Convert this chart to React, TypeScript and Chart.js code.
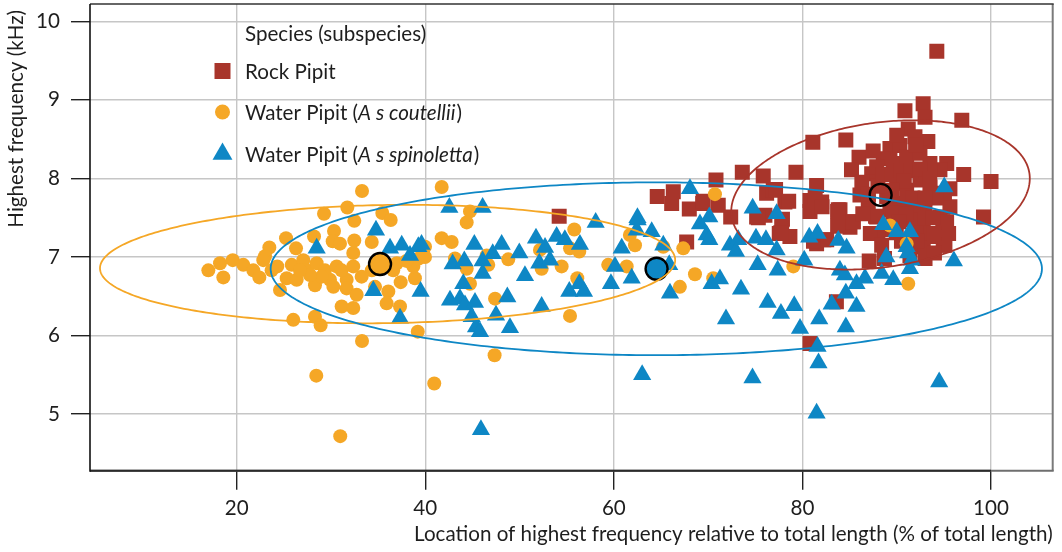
import React, { useEffect, useRef } from 'react';
import { Chart, registerables } from 'chart.js';

Chart.register(...registerables);

// ---------- axes ----------
const X_TICKS = [20, 40, 60, 80, 100];
const Y_TICKS = [5, 6, 7, 8, 9, 10];
const X_MIN = 4.44;
const X_MAX = 106.54;
const Y_MIN = 4.28;
const Y_MAX = 10.22;
const X_TITLE = 'Location of highest frequency relative to total length (% of total length)';
const Y_TITLE = 'Highest frequency (kHz)';

// ---------- legend ----------
const LEGEND_TITLE = 'Species (subspecies)';
// [normal, italic, normal]
const LEGEND_ROCK = ['Rock Pipit', '', ''];
const LEGEND_COUTELLII = ['Water Pipit (', 'A s coutellii', ')'];
const LEGEND_SPINOLETTA = ['Water Pipit (', 'A s spinoletta', ')'];

// ---------- data: [location %, highest frequency kHz] ----------
const rockPipit: [number, number][] = [
  [94.25, 9.62], [92.8, 8.95], [90.87, 8.86], [93.0, 8.78], [96.9, 8.74], [91.22, 8.63],
  [81.1, 8.46], [84.6, 8.49], [93.3, 8.47], [86.0, 8.27], [85.2, 8.11], [89.28, 8.38],
  [90.34, 8.42], [91.93, 8.53], [88.57, 8.25], [87.34, 8.06], [95.3, 8.19], [97.1, 8.05],
  [100.0, 7.96], [94.58, 8.11], [93.52, 8.19], [89.63, 8.19], [91.05, 8.27], [92.46, 8.32],
  [87.87, 8.15], [86.1, 7.79], [83.98, 7.6], [85.39, 7.45], [87.87, 7.51], [86.98, 7.68],
  [89.99, 7.94], [91.05, 7.85], [92.46, 7.98], [93.52, 7.89], [95.64, 7.87], [95.64, 7.64],
  [94.58, 7.51], [95.29, 7.45], [99.2, 7.51], [92.99, 7.64], [91.75, 7.64], [90.34, 7.68],
  [88.93, 7.77], [89.28, 7.6], [92.81, 7.34], [93.52, 7.26], [92.81, 7.13], [94.93, 7.15],
  [92.46, 7.49], [91.4, 7.47], [84.33, 7.43], [87.08, 6.95], [95.11, 7.15], [83.6, 6.43],
  [73.62, 8.08], [70.83, 7.98], [75.84, 8.03], [79.31, 8.08], [64.6, 7.77], [66.3, 7.83],
  [66.13, 7.68], [68.0, 7.61], [69.42, 7.68], [71.07, 7.66], [72.39, 7.51], [67.72, 7.19],
  [76.2, 7.81], [76.9, 7.85], [78.14, 7.7], [75.14, 7.51], [76.02, 7.53], [77.8, 7.41],
  [77.54, 7.3], [78.67, 7.26], [81.5, 7.91], [80.8, 7.72], [82.04, 7.7], [80.8, 7.58],
  [81.5, 7.17], [82.57, 7.22], [83.8, 7.6], [80.8, 5.9], [85.04, 7.38], [54.2, 7.52],
  [95.06, 7.81], [94.88, 7.45], [92.69, 7.31], [91.77, 7.14], [89.95, 7.31], [89.58, 7.56],
  [87.75, 7.52], [83.73, 7.39], [85.37, 7.45], [82.27, 7.22], [81.17, 7.2], [77.88, 7.48],
  [77.7, 7.31], [75.32, 7.5], [69.47, 7.71], [77.15, 7.86], [78.54, 7.71], [81.35, 7.77],
  [82.08, 7.64], [83.73, 7.58],
  [88.0, 7.9], [88.5, 8.05], [89.5, 8.05], [90.5, 8.1], [91.5, 8.1], [92.5, 8.12],
  [93.5, 8.0], [94.2, 7.75], [93.8, 7.5], [92.0, 7.3], [91.0, 7.55], [90.2, 7.45],
  [89.0, 7.35], [88.0, 7.3], [87.2, 7.3], [86.4, 7.55], [90.8, 7.97], [91.7, 7.75],
  [93.0, 7.75], [89.5, 7.85], [92.2, 7.2], [93.0, 6.98], [91.4, 7.02], [90.5, 7.2],
  [94.0, 7.3], [88.4, 7.15], [86.3, 7.95], [87.0, 7.8], [92.0, 8.43], [90.0, 8.55],
  [87.5, 8.35], [94.0, 7.05], [95.5, 7.3], [88.7, 6.98]
];

const coutellii: [number, number][] = [
  [33.29, 7.84], [29.26, 7.55], [31.73, 7.63], [32.47, 7.46], [35.44, 7.56], [36.33, 7.47],
  [25.23, 7.24], [30.32, 7.33], [30.18, 7.2], [30.95, 7.17], [32.47, 7.21], [23.46, 7.12],
  [28.2, 7.26], [26.29, 7.11], [23.0, 7.01], [16.99, 6.83], [18.23, 6.92], [18.58, 6.74],
  [19.58, 6.96], [20.7, 6.9], [21.76, 6.83], [22.4, 6.74], [22.82, 6.96], [24.59, 6.58],
  [25.3, 6.73], [25.83, 6.9], [26.36, 6.71], [27.06, 6.96], [27.42, 6.83], [28.48, 6.92],
  [28.3, 6.64], [29.36, 6.83], [29.89, 6.71], [30.6, 6.88], [31.66, 6.71], [31.66, 6.6],
  [32.36, 7.05], [32.36, 6.88], [32.72, 6.52], [31.13, 6.37], [32.36, 6.35], [26.0, 6.2],
  [28.3, 6.24], [28.9, 6.13], [33.29, 5.93], [34.32, 7.19], [34.67, 6.62], [36.08, 6.56],
  [35.9, 6.41], [37.32, 6.37], [37.39, 6.68], [36.97, 6.92], [24.3, 6.88], [23.7, 6.83],
  [29.0, 6.75], [30.25, 6.62], [31.13, 6.83], [27.77, 6.77], [26.71, 6.83], [39.2, 6.05],
  [28.44, 5.49], [30.98, 4.72], [40.95, 5.39], [47.35, 5.75], [41.74, 7.89], [44.74, 7.58],
  [44.39, 7.44], [41.74, 7.24], [42.8, 7.19], [39.97, 7.13], [39.97, 7.0], [38.9, 6.73],
  [38.73, 6.88], [43.15, 6.98], [44.39, 6.85], [44.74, 6.66], [46.51, 7.02], [46.68, 6.9],
  [48.8, 6.97], [47.4, 6.47], [52.16, 7.09], [52.34, 6.85], [54.46, 6.88], [55.35, 7.11],
  [56.33, 7.07], [55.8, 7.35], [56.12, 6.73], [55.35, 6.25], [59.4, 6.9], [61.36, 6.88],
  [61.7, 7.28], [62.24, 7.15], [70.72, 7.8], [65.24, 7.13], [67.36, 7.11], [68.6, 6.78],
  [67.0, 6.62], [70.54, 6.73], [79.03, 6.88], [89.28, 7.4], [91.05, 7.17], [91.22, 6.66],
  [34.32, 6.83], [36.6, 6.83], [33.25, 6.75], [38.0, 6.95], [39.3, 6.98]
];

const spinoletta: [number, number][] = [
  [34.77, 7.34], [28.48, 7.11], [36.26, 7.11], [37.5, 7.15], [38.38, 7.02], [39.26, 7.13],
  [34.49, 6.57], [37.32, 6.22], [39.5, 6.56], [42.55, 7.63], [46.08, 7.63], [39.6, 7.16],
  [42.9, 6.91], [44.14, 6.95], [45.2, 7.16], [46.08, 6.95], [47.15, 7.04], [48.1, 7.16],
  [49.97, 7.05], [51.74, 7.24], [52.7, 7.12], [53.93, 7.26], [54.8, 7.22], [56.4, 7.16],
  [52.09, 6.92], [53.22, 6.96], [58.07, 7.44], [46.08, 6.79], [50.57, 6.76], [44.03, 6.66],
  [42.62, 6.45], [43.68, 6.47], [44.21, 6.39], [45.27, 6.42], [44.92, 6.24], [45.38, 6.11],
  [45.8, 6.05], [47.5, 6.26], [48.7, 6.49], [48.98, 6.1], [52.34, 6.37], [55.27, 6.56],
  [56.33, 6.66], [56.83, 6.56], [59.69, 6.66], [60.12, 6.88], [60.83, 7.11], [61.89, 6.73],
  [62.52, 7.47], [62.42, 7.34], [68.07, 7.87], [64.01, 7.32], [65.24, 7.15], [65.87, 6.9],
  [65.95, 6.54], [69.13, 7.42], [70.12, 7.51], [69.84, 7.28], [70.12, 7.22], [72.31, 7.15],
  [73.19, 7.22], [72.95, 7.07], [74.72, 7.62], [75.07, 7.24], [76.13, 7.22], [77.26, 7.55],
  [77.26, 7.09], [75.25, 6.9], [77.37, 6.83], [70.37, 6.66], [71.25, 6.72], [73.48, 6.59],
  [71.89, 6.21], [76.31, 6.42], [77.72, 6.28], [79.13, 6.38], [79.74, 6.09], [80.19, 6.96],
  [80.72, 7.25], [81.6, 7.3], [81.78, 6.21], [81.6, 5.86], [83.1, 6.4], [83.8, 7.21],
  [84.68, 7.11], [83.97, 6.83], [84.5, 6.77], [84.6, 6.54], [84.6, 6.11], [85.73, 6.66],
  [85.73, 6.37], [95.04, 7.89], [88.57, 7.41], [89.99, 7.32], [91.4, 7.32], [91.05, 7.13],
  [88.9, 7.0], [91.2, 7.05], [91.58, 6.96], [91.4, 6.85], [96.06, 6.95], [86.63, 6.73],
  [88.4, 6.79], [89.63, 6.71], [94.5, 5.41], [63.0, 5.5], [74.7, 5.46], [81.5, 5.01],
  [81.7, 5.65], [45.9, 4.8], [62.5, 7.5]
];

// group means
const rockMean: [number, number] = [88.29, 7.79];
const coutelliiMean: [number, number] = [35.2, 6.91];
const spinolettaMean: [number, number] = [64.53, 6.85];

// confidence ellipses: [cx, cy, rx, ry, correlation (cos of phase)]
const rockEllipse = [88.28, 7.79, 15.83, 0.95, 0.22];
const coutelliiEllipse = [36.0, 6.91, 30.5, 0.754, 0.07];
const spinolettaEllipse = [64.5, 6.85, 40.9, 1.1, 0.0];

// ---------- styles ----------
const RED = '#A8352B';
const ORANGE = '#F5A726';
const BLUE = '#0E87C5';
const TEXT = '#1e1e1e';
const FONT = 'Lato, "Open Sans", sans-serif';
const FS = 20.6;

const toPts = (arr: [number, number][]) => arr.map(([x, y]) => ({ x, y }));

const ellipsePlugin = {
  id: 'ellipses',
  afterDatasetsDraw(chart: any) {
    const { ctx, chartArea, scales } = chart;
    const xs = scales.x;
    const ys = scales.y;
    ctx.save();
    ctx.beginPath();
    ctx.rect(chartArea.left, chartArea.top, chartArea.right - chartArea.left, chartArea.bottom - chartArea.top);
    ctx.clip();
    const list: [number[], string][] = [
      [coutelliiEllipse, ORANGE],
      [spinolettaEllipse, BLUE],
      [rockEllipse, RED],
    ];
    list.forEach(([e, color]) => {
      const [cx, cy, rx, ry, c] = e;
      const d = Math.acos(c);
      ctx.beginPath();
      const n = 360;
      for (let i = 0; i <= n; i++) {
        const t = (i / n) * Math.PI * 2;
        const px = xs.getPixelForValue(cx + rx * Math.cos(t));
        const py = ys.getPixelForValue(cy + ry * Math.cos(t - d));
        if (i === 0) ctx.moveTo(px, py);
        else ctx.lineTo(px, py);
      }
      ctx.closePath();
      ctx.strokeStyle = color;
      ctx.lineWidth = 1.8;
      ctx.stroke();
    });
    ctx.restore();
  },
};

const framePlugin = {
  id: 'frame',
  afterDraw(chart: any) {
    const { ctx, chartArea, scales } = chart;
    const { left, right, top, bottom } = chartArea;
    ctx.save();
    ctx.lineCap = 'butt';
    // right border
    ctx.strokeStyle = '#7a7a7a';
    ctx.lineWidth = 2;
    ctx.beginPath();
    ctx.moveTo(right, top);
    ctx.lineTo(right, bottom);
    ctx.stroke();
    // top border
    ctx.strokeStyle = '#333';
    ctx.lineWidth = 1.6;
    ctx.beginPath();
    ctx.moveTo(left, top);
    ctx.lineTo(right + 1, top);
    ctx.stroke();
    // bottom border
    ctx.strokeStyle = '#6e6e6e';
    ctx.lineWidth = 2;
    ctx.beginPath();
    ctx.moveTo(left, bottom);
    ctx.lineTo(right + 1, bottom);
    ctx.stroke();
    const x1 = scales.x.getPixelForValue(X_TICKS[X_TICKS.length - 1]);
    ctx.strokeStyle = '#2a2a2a';
    ctx.beginPath();
    ctx.moveTo(left, bottom);
    ctx.lineTo(x1, bottom);
    ctx.stroke();
    // left axis
    ctx.strokeStyle = '#111';
    ctx.lineWidth = 1.6;
    ctx.beginPath();
    ctx.moveTo(left, top);
    ctx.lineTo(left, bottom + 1);
    ctx.stroke();
    // y axis title (rotated, aligned to the top of the plot)
    ctx.translate(16, top + 6);
    ctx.rotate(-Math.PI / 2);
    ctx.font = `${FS}px ${FONT}`;
    ctx.fillStyle = TEXT;
    ctx.textAlign = 'right';
    ctx.textBaseline = 'middle';
    ctx.fillText(Y_TITLE, 0, 0);
    ctx.restore();
  },
};

function drawMarker(ctx: CanvasRenderingContext2D, kind: string, x: number, y: number, color: string) {
  ctx.fillStyle = color;
  ctx.beginPath();
  if (kind === 'rect') {
    ctx.rect(x - 8, y - 8, 16, 16);
  } else if (kind === 'circle') {
    ctx.arc(x, y, 7.5, 0, Math.PI * 2);
  } else {
    const r = 11.5;
    for (let k = 0; k < 3; k++) {
      const a = (k * 2 * Math.PI) / 3;
      const px = x + Math.sin(a) * r;
      const py = y - Math.cos(a) * r;
      if (k === 0) ctx.moveTo(px, py);
      else ctx.lineTo(px, py);
    }
    ctx.closePath();
  }
  ctx.fill();
}

const legendPlugin = {
  id: 'customLegend',
  afterDraw(chart: any) {
    const { ctx, chartArea } = chart;
    const { left, top } = chartArea;
    ctx.save();
    ctx.textBaseline = 'middle';
    ctx.textAlign = 'left';
    ctx.fillStyle = TEXT;
    const tx = left + 155;
    const mx = left + 132.5;
    ctx.font = `${FS}px ${FONT}`;
    ctx.fillText(LEGEND_TITLE, tx, top + 30);
    const items: [string[], string, string, number][] = [
      [LEGEND_ROCK, 'rect', RED, 67],
      [LEGEND_COUTELLII, 'circle', ORANGE, 108],
      [LEGEND_SPINOLETTA, 'triangle', BLUE, 150],
    ];
    items.forEach(([parts, kind, color, dy]) => {
      drawMarker(ctx, kind, mx, top + dy, color);
      ctx.fillStyle = TEXT;
      let x = tx;
      parts.forEach((p, i) => {
        if (!p) return;
        ctx.font = `${i === 1 ? 'italic ' : ''}${FS}px ${FONT}`;
        ctx.fillText(p, x, top + dy + 1);
        x += ctx.measureText(p).width + (i === 1 ? 1 : 0);
      });
    });
    ctx.restore();
  },
};

export default function App() {
  const ref = useRef<HTMLCanvasElement | null>(null);

  useEffect(() => {
    if (!ref.current) return;
    const chart = new Chart(ref.current, {
      type: 'scatter',
      data: {
        datasets: [
          {
            label: 'means',
            data: [
              { x: rockMean[0], y: rockMean[1] },
              { x: coutelliiMean[0], y: coutelliiMean[1] },
              { x: spinolettaMean[0], y: spinolettaMean[1] },
            ],
            pointRadius: 11,
            pointStyle: 'circle',
            backgroundColor: ['rgba(0,0,0,0)', ORANGE, BLUE],
            borderColor: '#000',
            borderWidth: 2.4,
            order: 0,
          },
          {
            label: 'Water Pipit (A s spinoletta)',
            data: toPts(spinoletta),
            pointStyle: 'triangle',
            pointRadius: 10.5,
            backgroundColor: BLUE,
            borderWidth: 0,
            order: 1,
          },
          {
            label: 'Water Pipit (A s coutellii)',
            data: toPts(coutellii),
            pointStyle: 'circle',
            pointRadius: 7,
            backgroundColor: ORANGE,
            borderWidth: 0,
            order: 2,
          },
          {
            label: 'Rock Pipit',
            data: toPts(rockPipit),
            pointStyle: 'rect',
            pointRadius: 10.6,
            backgroundColor: RED,
            borderWidth: 0,
            order: 3,
          },
        ],
      },
      options: {
        animation: false,
        responsive: false,
        events: [],
        layout: { autoPadding: false, padding: { top: 4, right: 9.3, left: 0, bottom: 0 } },
        plugins: {
          legend: { display: false },
          tooltip: { enabled: false },
        },
        scales: {
          x: {
            type: 'linear',
            min: X_MIN,
            max: X_MAX,
            afterBuildTicks: (s: any) => {
              s.ticks = X_TICKS.map((v) => ({ value: v }));
            },
            afterFit: (s: any) => {
              s.height = 81.3;
              s.paddingLeft = 0;
              s.paddingRight = 0;
            },
            grid: {
              color: '#c6c6c6',
              lineWidth: 1.4,
              tickColor: '#222',
              tickLength: 19,
              tickWidth: 1.4,
            },
            border: { display: false },
            ticks: {
              color: TEXT,
              font: { family: FONT, size: FS },
              padding: 6,
              maxRotation: 0,
            },
            title: {
              display: true,
              text: X_TITLE,
              align: 'end',
              color: TEXT,
              font: { family: FONT, size: FS },
              padding: { top: 0, bottom: 5 },
            },
          },
          y: {
            type: 'linear',
            min: Y_MIN,
            max: Y_MAX,
            afterBuildTicks: (s: any) => {
              s.ticks = Y_TICKS.map((v) => ({ value: v }));
            },
            afterFit: (s: any) => {
              s.width = 90;
              s.paddingTop = 0;
              s.paddingBottom = 0;
            },
            grid: {
              color: '#c6c6c6',
              lineWidth: 1.4,
              tickColor: '#222',
              tickLength: 19,
              tickWidth: 1.4,
            },
            border: { display: false },
            ticks: {
              color: TEXT,
              font: { family: FONT, size: FS },
              padding: 11,
            },
            title: { display: false },
          },
        },
      },
      plugins: [ellipsePlugin, framePlugin, legendPlugin],
    } as any);
    return () => chart.destroy();
  }, []);

  return (
    <div style={{ position: 'absolute', left: 0, top: 0, width: 1062, height: 552, background: '#fff' }}>
      <canvas ref={ref} width={1062} height={552} style={{ display: 'block', width: 1062, height: 552 }} />
    </div>
  );
}
